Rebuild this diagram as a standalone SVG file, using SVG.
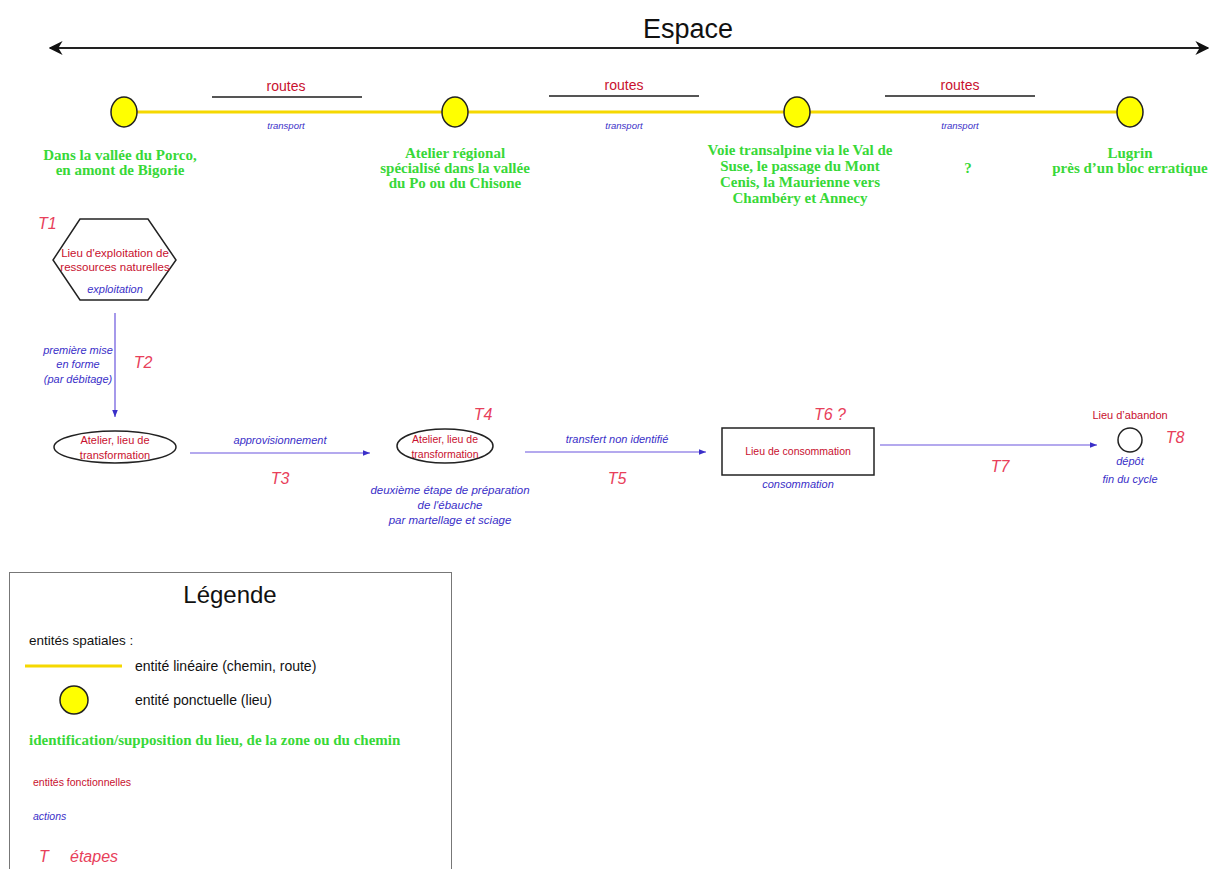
<svg xmlns="http://www.w3.org/2000/svg" width="1219" height="869" viewBox="0 0 1219 869">
<style>
.sans{font-family:"Liberation Sans","DejaVu Sans",sans-serif}
.red{fill:#c8102e;font-family:"Liberation Sans",sans-serif}
.blue{fill:#3a2fc8;font-family:"Liberation Sans",sans-serif;font-style:italic}
.green{fill:#38d838;font-family:"Liberation Serif",serif;font-weight:bold;font-size:15px}
.step{fill:#e8405a;font-family:"Liberation Sans",sans-serif;font-style:italic;font-size:16px}
.route{stroke:#555;stroke-width:2}
.place{fill:#ffff00;stroke:#222;stroke-width:1.5}
.flow{stroke:#6a55dd;stroke-width:1.2;fill:none;marker-end:url(#ah)}
</style>
<defs>
<marker id="ah" viewBox="0 0 10 10" refX="10" refY="5" markerWidth="7" markerHeight="7" markerUnits="userSpaceOnUse" orient="auto"><path d="M0,1 L10,5 L0,9 z" fill="#3a2fc8"/></marker>
<marker id="bk" viewBox="0 0 10 10" refX="9" refY="5" markerWidth="14" markerHeight="14" markerUnits="userSpaceOnUse" orient="auto-start-reverse"><path d="M0,0 L10,5 L0,10 L3,5 z" fill="#111"/></marker>
</defs>
<rect width="1219" height="869" fill="#fff"/>
<g id="axis">
<line x1="50" y1="48" x2="1208" y2="48" stroke="#222" stroke-width="2" marker-start="url(#bk)" marker-end="url(#bk)"/>
<text x="688" y="38" text-anchor="middle" class="sans" font-size="27" fill="#111">Espace</text>
</g>
<g id="connectors">
<line x1="124" y1="112" x2="1130" y2="112" stroke="#f5d800" stroke-width="3"/>
<line class="route" x1="212" y1="97" x2="362" y2="97"/>
<line class="route" x1="549" y1="96" x2="699" y2="96"/>
<line class="route" x1="885" y1="96" x2="1035" y2="96"/>
<text x="286" y="91" text-anchor="middle" class="red" font-size="14">routes</text>
<text x="624" y="90" text-anchor="middle" class="red" font-size="14">routes</text>
<text x="960" y="90" text-anchor="middle" class="red" font-size="14">routes</text>
<text x="286" y="129" text-anchor="middle" class="blue" font-size="9.5">transport</text>
<text x="624" y="129" text-anchor="middle" class="blue" font-size="9.5">transport</text>
<text x="960" y="129" text-anchor="middle" class="blue" font-size="9.5">transport</text>
<text x="968" y="173" text-anchor="middle" class="green" font-size="17">?</text>
<line class="flow" x1="115" y1="313" x2="115" y2="417"/>
<text x="78" y="354" text-anchor="middle" class="blue" font-size="11">première mise</text>
<text x="78" y="368" text-anchor="middle" class="blue" font-size="11">en forme</text>
<text x="78" y="383" text-anchor="middle" class="blue" font-size="11">(par débitage)</text>
<text x="143" y="368" text-anchor="middle" class="step">T2</text>
<line class="flow" x1="190" y1="453" x2="370" y2="453"/>
<text x="280" y="444" text-anchor="middle" class="blue" font-size="11">approvisionnement</text>
<text x="280" y="484" text-anchor="middle" class="step">T3</text>
<line class="flow" x1="525" y1="452" x2="706" y2="452"/>
<text x="617" y="443" text-anchor="middle" class="blue" font-size="11">transfert non identifié</text>
<text x="617" y="484" text-anchor="middle" class="step">T5</text>
<line class="flow" x1="880" y1="445" x2="1097" y2="445"/>
<text x="1000" y="472" text-anchor="middle" class="step">T7</text>
</g>
<g id="p1">
<ellipse class="place" cx="124" cy="112" rx="13" ry="15"/>
<text x="120" y="160" text-anchor="middle" class="green">Dans la vallée du Porco,</text>
<text x="120" y="175" text-anchor="middle" class="green">en amont de Bigorie</text>
</g>
<g id="p2">
<ellipse class="place" cx="455" cy="112" rx="13" ry="15"/>
<text x="455" y="158" text-anchor="middle" class="green">Atelier régional</text>
<text x="455" y="173" text-anchor="middle" class="green">spécialisé dans la vallée</text>
<text x="455" y="188" text-anchor="middle" class="green">du Po ou du Chisone</text>
</g>
<g id="p3">
<ellipse class="place" cx="797" cy="112" rx="13" ry="15"/>
<text x="800" y="155" text-anchor="middle" class="green">Voie transalpine via le Val de</text>
<text x="800" y="171" text-anchor="middle" class="green">Suse, le passage du Mont</text>
<text x="800" y="187" text-anchor="middle" class="green">Cenis, la Maurienne vers</text>
<text x="800" y="203" text-anchor="middle" class="green">Chambéry et Annecy</text>
</g>
<g id="p4">
<ellipse class="place" cx="1130" cy="112" rx="13" ry="15"/>
<text x="1130" y="158" text-anchor="middle" class="green">Lugrin</text>
<text x="1130" y="173" text-anchor="middle" class="green">près d’un bloc erratique</text>
</g>
<g id="n1">
<text x="38" y="229" class="step">T1</text>
<polygon points="80,219 148,219 176,260 148,300 80,300 53,260" fill="#fff" stroke="#222" stroke-width="1.5"/>
<text x="115" y="257" text-anchor="middle" class="red" font-size="11.5">Lieu d'exploitation de</text>
<text x="115" y="271" text-anchor="middle" class="red" font-size="11.5">ressources naturelles</text>
<text x="115" y="293" text-anchor="middle" class="blue" font-size="11">exploitation</text>
</g>
<g id="n2">
<ellipse cx="115" cy="447" rx="61" ry="16" fill="#fff" stroke="#222" stroke-width="1.5"/>
<text x="115" y="444" text-anchor="middle" class="red" font-size="11">Atelier, lieu de</text>
<text x="115" y="459" text-anchor="middle" class="red" font-size="11">transformation</text>
</g>
<g id="n3">
<text x="483" y="420" text-anchor="middle" class="step">T4</text>
<ellipse cx="445" cy="446" rx="48" ry="17" fill="#fff" stroke="#222" stroke-width="1.5"/>
<text x="445" y="443" text-anchor="middle" class="red" font-size="10.5">Atelier, lieu de</text>
<text x="445" y="458" text-anchor="middle" class="red" font-size="10.5">transformation</text>
<text x="450" y="494" text-anchor="middle" class="blue" font-size="11.5">deuxième étape de préparation</text>
<text x="450" y="509" text-anchor="middle" class="blue" font-size="11.5">de l'ébauche</text>
<text x="450" y="524" text-anchor="middle" class="blue" font-size="11.5">par martellage et sciage</text>
</g>
<g id="n4">
<text x="830" y="420" text-anchor="middle" class="step">T6 ?</text>
<rect x="722" y="428" width="152" height="47" fill="#fff" stroke="#222" stroke-width="1.5"/>
<text x="798" y="455" text-anchor="middle" class="red" font-size="10.5">Lieu de consommation</text>
<text x="798" y="488" text-anchor="middle" class="blue" font-size="11">consommation</text>
</g>
<g id="n5">
<text x="1130" y="419" text-anchor="middle" class="red" font-size="11">Lieu d’abandon</text>
<circle cx="1130" cy="440" r="12" fill="#fff" stroke="#222" stroke-width="1.5"/>
<text x="1175" y="443" text-anchor="middle" class="step">T8</text>
<text x="1130" y="465" text-anchor="middle" class="blue" font-size="11">dépôt</text>
<text x="1130" y="483" text-anchor="middle" class="blue" font-size="11">fin du cycle</text>
</g>
<g id="legend">
<rect x="9.5" y="572.5" width="442" height="300" fill="none" stroke="#777" stroke-width="1"/>
<text x="230" y="603" text-anchor="middle" class="sans" font-size="24" fill="#111">Légende</text>
<text x="29" y="645" class="sans" font-size="13.5" fill="#111">entités spatiales :</text>
<line x1="25" y1="666" x2="122" y2="666" stroke="#f5d800" stroke-width="3"/>
<text x="135" y="671" class="sans" font-size="14" fill="#111">entité linéaire (chemin, route)</text>
<ellipse class="place" cx="74" cy="700" rx="14" ry="14"/>
<text x="135" y="705" class="sans" font-size="14" fill="#111">entité ponctuelle (lieu)</text>
<text x="29" y="745" class="green">identification/supposition du lieu, de la zone ou du chemin</text>
<text x="33" y="786" class="red" font-size="10.5">entités fonctionnelles</text>
<text x="33" y="820" class="blue" font-size="10.5">actions</text>
<text x="39" y="862" class="step" font-size="15">T</text>
<text x="70" y="862" class="step" font-size="15">étapes</text>
</g>
</svg>
